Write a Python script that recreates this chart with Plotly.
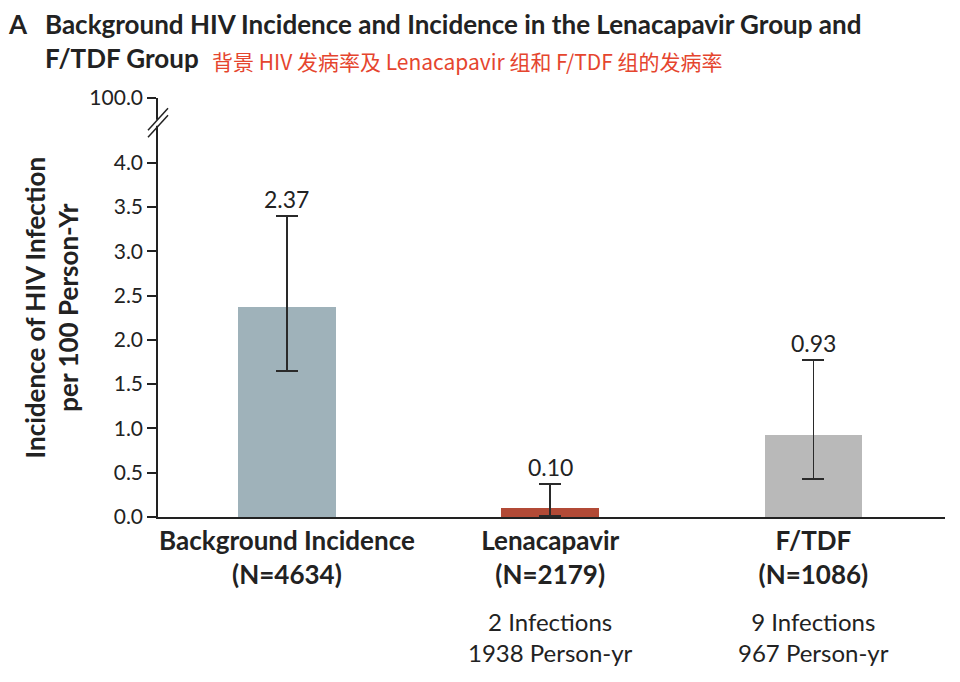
import plotly.graph_objects as go

categories = ["Background Incidence", "Lenacapavir", "F/TDF"]
n_labels = ["(N=4634)", "(N=2179)", "(N=1086)"]
incidence = [2.37, 0.10, 0.93]
ci_low = [1.65, 0.01, 0.43]
ci_high = [3.40, 0.37, 1.77]
bar_colors = ["#9fb2ba", "#b24a36", "#b9b9b9"]
extra_notes = ["", "2 Infections<br>1938 Person-yr", "9 Infections<br>967 Person-yr"]
tick_vals = [0.0, 0.5, 1.0, 1.5, 2.0, 2.5, 3.0, 3.5, 4.0, 4.73]
tick_text = ["0.0", "0.5", "1.0", "1.5", "2.0", "2.5", "3.0", "3.5", "4.0", "100.0"]

FONT = "Lato, Roboto, sans-serif"
xs = list(range(len(categories)))

fig = go.Figure()
fig.add_trace(go.Bar(
    x=xs, y=incidence, width=0.37,
    marker=dict(color=bar_colors, line=dict(width=0)),
    error_y=dict(type="data", symmetric=False,
                 array=[h - v for h, v in zip(ci_high, incidence)],
                 arrayminus=[v - l for v, l in zip(incidence, ci_low)],
                 color="#2a2a2a", thickness=1.5, width=11),
    hoverinfo="skip", showlegend=False,
))

for i, (v, h) in enumerate(zip(incidence, ci_high)):
    fig.add_annotation(x=i, y=h, text=f"{v:.2f}", showarrow=False,
                       yanchor="bottom", yshift=1,
                       font=dict(family=FONT, size=23, color="#222"))
for i, note in enumerate(extra_notes):
    if note:
        fig.add_annotation(x=i, y=0, yref="paper", text=note, showarrow=False,
                           yanchor="top", yshift=-88, align="center",
                           font=dict(family=FONT, size=24, color="#222"))

fig.add_annotation(x=0, y=0.5, xref="paper", yref="paper", textangle=-90, xshift=-107,
                   text="<b>Incidence of HIV Infection<br>per 100 Person-Yr</b>", showarrow=False,
                   font=dict(family=FONT, size=26, color="#222"), xanchor="center", yanchor="middle")

fig.update_layout(
    width=952, height=674,
    margin=dict(l=150, r=15, t=90, b=165),
    paper_bgcolor="white", plot_bgcolor="white",
    font=dict(family=FONT, size=19, color="#222"),
    bargap=0,
    xaxis=dict(range=[-0.49, 2.5], tickvals=xs,
               ticktext=[f"<b>{c}<br>{n}</b>" for c, n in zip(categories, n_labels)],
               tickfont=dict(family=FONT, size=26, color="#222"),
               showline=True, linecolor="#222", linewidth=1.5, ticks="",
               showgrid=False, zeroline=False),
    yaxis=dict(range=[0, 4.73], tickvals=tick_vals, ticktext=tick_text,
               tickfont=dict(family=FONT, size=21, color="#222"),
               showline=True, linecolor="#222", linewidth=1.5,
               ticks="outside", ticklen=9, tickwidth=1.5, tickcolor="#222",
               showgrid=False, zeroline=False),
)

# Title texts
fig.add_annotation(x=0, y=1, xref="paper", yref="paper", xanchor="left", yanchor="top",
                   xshift=-152, yshift=92, text="<b>A</b>", showarrow=False,
                   font=dict(family=FONT, size=26, color="#222"))
fig.add_annotation(x=0, y=1, xref="paper", yref="paper", xanchor="left", yanchor="top",
                   xshift=-115, yshift=92, align="left",
                   text="<b>Background HIV Incidence and Incidence in the Lenacapavir Group and<br>F/TDF Group</b>",
                   showarrow=False, font=dict(family=FONT, size=26, color="#222"))
fig.add_annotation(x=0, y=1, xref="paper", yref="paper", xanchor="left", yanchor="top",
                   xshift=52, yshift=54, align="left",
                   text="背景 HIV 发病率及 Lenacapavir 组和 F/TDF 组的发病率",
                   showarrow=False, font=dict(family="Noto Sans CJK SC", size=21, color="#e5452e"))

# Axis break
fig.add_shape(type="rect", xref="paper", yref="y", xsizemode="pixel", ysizemode="pixel",
              xanchor=0, yanchor=4.45, x0=-4, x1=4, y0=-3, y1=3,
              fillcolor="white", line=dict(width=0), layer="above")
for off in (-3.5, 3.5):
    fig.add_shape(type="line", xref="paper", yref="y", xsizemode="pixel", ysizemode="pixel",
                  xanchor=0, yanchor=4.45, x0=-10, x1=10, y0=off - 11, y1=off + 11,
                  line=dict(color="#222", width=1.5), layer="above")

fig.write_html("out.html")
